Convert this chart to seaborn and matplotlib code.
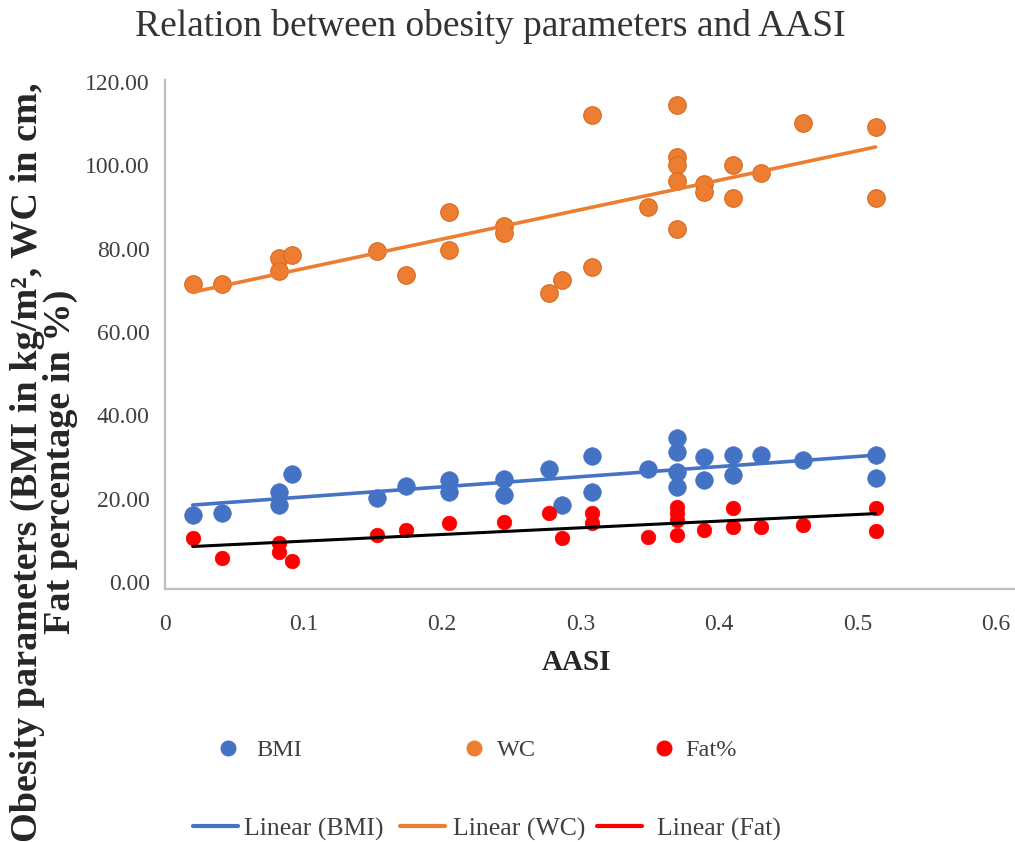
import matplotlib
matplotlib.use("Agg")
import matplotlib.pyplot as plt
import seaborn as sns
import pandas as pd
from matplotlib.lines import Line2D

# ---- data ----
bmi_x = [0.020, 0.041, 0.082, 0.082, 0.092, 0.153, 0.174, 0.205, 0.205, 0.245, 0.245,
         0.277, 0.287, 0.308, 0.308, 0.349, 0.370, 0.370, 0.370, 0.370, 0.389, 0.389,
         0.410, 0.410, 0.430, 0.461, 0.513, 0.513]
bmi_y = [16.1, 16.6, 21.6, 18.5, 25.9, 20.2, 23.0, 24.5, 21.6, 24.7, 20.9,
         27.1, 18.5, 30.2, 21.6, 27.1, 34.6, 31.2, 26.4, 22.8, 30.0, 24.5,
         30.5, 25.7, 30.5, 29.3, 30.5, 25.0]

wc_x = [0.020, 0.041, 0.082, 0.082, 0.092, 0.153, 0.174, 0.205, 0.205, 0.245, 0.245,
        0.277, 0.287, 0.308, 0.308, 0.349, 0.370, 0.370, 0.370, 0.370, 0.370,
        0.389, 0.389, 0.410, 0.410, 0.430, 0.461, 0.513, 0.513]
wc_y = [71.5, 71.5, 77.8, 74.6, 78.5, 79.4, 73.7, 88.8, 79.7, 85.4, 83.8,
        69.4, 72.5, 112.1, 75.6, 90.0, 114.5, 102.0, 100.1, 96.2, 84.7,
        95.5, 93.6, 100.1, 92.2, 98.2, 110.2, 109.2, 92.2]

fat_x = [0.020, 0.041, 0.082, 0.082, 0.092, 0.153, 0.174, 0.205, 0.245, 0.277, 0.287,
         0.308, 0.308, 0.349, 0.370, 0.370, 0.370, 0.370, 0.389, 0.410, 0.410,
         0.430, 0.461, 0.513, 0.513]
fat_y = [10.6, 5.8, 9.4, 7.2, 5.0, 11.3, 12.5, 14.2, 14.4, 16.6, 10.6,
         16.6, 14.2, 10.8, 18.0, 16.6, 14.9, 11.3, 12.5, 17.8, 13.2,
         13.2, 13.7, 17.8, 12.2]

y_ticks = [0, 20, 40, 60, 80, 100, 120]
x_ticks = [0, 0.1, 0.2, 0.3, 0.4, 0.5, 0.6]
x_tick_labels = ["0", "0.1", "0.2", "0.3", "0.4", "0.5", "0.6"]

title = "Relation between obesity parameters and AASI"
x_label = "AASI"
y_label = "Obesity parameters (BMI in kg/m², WC in cm,\nFat percentage in %)"

C_BMI = "#4472C4"
C_WC = "#ED7D31"
C_FAT = "#FF0000"

sns.set_theme(style="white")
plt.rcParams["font.family"] = ["Liberation Serif", "DejaVu Serif"]

df_bmi = pd.DataFrame({"AASI": bmi_x, "val": bmi_y})
df_wc = pd.DataFrame({"AASI": wc_x, "val": wc_y})
df_fat = pd.DataFrame({"AASI": fat_x, "val": fat_y})

fig = plt.figure(figsize=(10.15, 8.42), dpi=100)
ax = fig.add_axes([165 / 1015, 1 - 589 / 842, 1 - 165 / 1015, (589 - 80) / 842])

sns.regplot(data=df_wc, x="AASI", y="val", ax=ax, ci=None, truncate=True,
            scatter_kws=dict(s=160, color=C_WC, edgecolor="#D9691F", linewidths=0.8, alpha=1),
            line_kws=dict(color=C_WC, lw=2.6))
sns.regplot(data=df_bmi, x="AASI", y="val", ax=ax, ci=None, truncate=True,
            scatter_kws=dict(s=160, color=C_BMI, edgecolor=C_BMI, linewidths=0.5, alpha=1),
            line_kws=dict(color=C_BMI, lw=2.6))
sns.regplot(data=df_fat, x="AASI", y="val", ax=ax, ci=None, truncate=True,
            scatter_kws=dict(s=110, color=C_FAT, edgecolor=C_FAT, linewidths=0.5, alpha=1),
            line_kws=dict(color="black", lw=2.2))

ax.set_xlim(0, (1015 - 165) / 1385)
ax.set_ylim(-1.7, 120.5)
ax.set_xticks(x_ticks)
ax.set_xticklabels(x_tick_labels)
ax.set_yticks(y_ticks)
ax.set_yticklabels([f"{v:.2f}" for v in y_ticks])
ax.tick_params(axis="both", length=0, labelsize=17, colors="#404040")
ax.tick_params(axis="x", pad=18)
ax.tick_params(axis="y", pad=11)
ax.set_xlabel("")
ax.set_ylabel("")
for s in ["top", "right"]:
    ax.spines[s].set_visible(False)
for s in ["left", "bottom"]:
    ax.spines[s].set_color("#BFBFBF")
    ax.spines[s].set_linewidth(1.6)
ax.grid(False)

fig.text(490 / 1015, 1 - 27 / 842, title, ha="center", va="center",
         fontsize=27, color="#333333")
fig.text(577 / 1015, 1 - 663 / 842, x_label, ha="center", va="center",
         fontsize=21, fontweight="bold", color="#262626")
fig.text(44 / 1015, 1 - 462 / 842, y_label, ha="center", va="center", rotation=90,
         fontsize=27.5, fontweight="bold", color="#262626", linespacing=0.9,
         multialignment="center")

# legend entries
def add_entry(handle, label, x_px, y_px, hl, pad, fs):
    fig.legend(handles=[handle], labels=[label], loc="center left",
               bbox_to_anchor=(x_px / 1015, 1 - y_px / 842), frameon=False,
               fontsize=fs, handlelength=hl, handletextpad=pad, borderpad=0,
               borderaxespad=0, labelcolor="#404040")

mk = dict(marker="o", linestyle="None", markersize=10.5)
add_entry(Line2D([], [], color=C_BMI, **mk), "BMI", 216, 750, 1.0, 0.65, 17.5)
add_entry(Line2D([], [], color=C_WC, **mk), "WC", 462, 750, 1.0, 0.45, 17.5)
add_entry(Line2D([], [], color=C_FAT, **mk), "Fat%", 652, 750, 1.0, 0.35, 17.5)
add_entry(Line2D([], [], color=C_BMI, lw=3), "Linear (BMI)", 193, 829, 1.75, 0.25, 18.5)
add_entry(Line2D([], [], color=C_WC, lw=3), "Linear (WC)", 400, 829, 1.75, 0.3, 18.5)
add_entry(Line2D([], [], color=C_FAT, lw=3), "Linear (Fat)", 597, 829, 1.75, 0.6, 18.5)

fig.savefig("out.png", dpi=100)
